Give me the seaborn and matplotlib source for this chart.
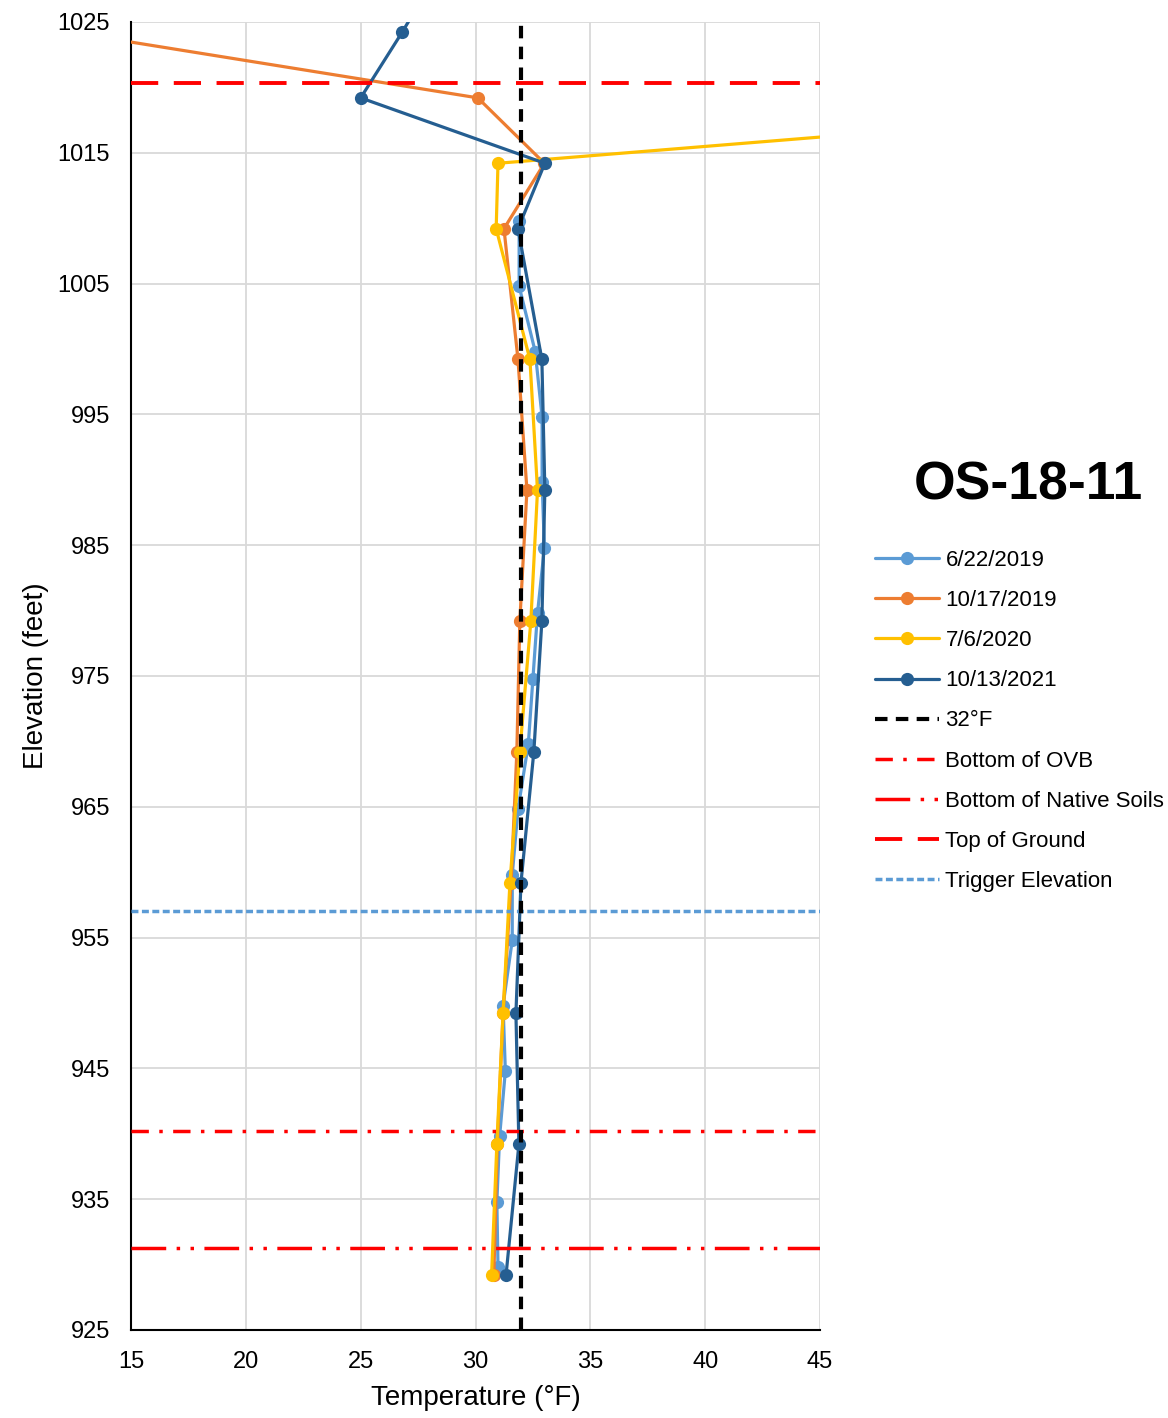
import numpy as np
import pandas as pd
import seaborn as sns
import matplotlib.pyplot as plt
from matplotlib.lines import Line2D

# Temperature profiles (deg F) vs elevation (feet)
elev_0622_2019 = [1009.8, 1004.8, 999.8, 994.8, 989.8, 984.8, 979.8, 974.8, 969.8,
                  964.8, 959.8, 954.8, 949.8, 944.8, 939.8, 934.8, 929.8]
temp_0622_2019 = [31.9, 31.9, 32.6, 32.9, 32.9, 33.0, 32.7, 32.5, 32.3,
                  31.85, 31.6, 31.6, 31.2, 31.3, 31.05, 30.93, 30.98]

elev_1017_2019 = [1024.2, 1019.2, 1014.2, 1009.2, 999.2, 989.2, 979.2, 969.2,
                  959.2, 949.2, 939.2, 929.2]
temp_1017_2019 = [12.4, 30.1, 33.0, 31.24, 31.85, 32.24, 31.93, 31.8,
                  31.55, 31.2, 30.95, 30.8]

elev_0706_2020 = [1019.2, 1014.2, 1009.2, 999.2, 989.2, 979.2, 969.2,
                  959.2, 949.2, 939.2, 929.2]
temp_0706_2020 = [66.0, 30.98, 30.9, 32.37, 32.7, 32.41, 31.93,
                  31.5, 31.2, 30.93, 30.7]

elev_1013_2021 = [1029.2, 1024.2, 1019.2, 1014.2, 1009.2, 999.2, 989.2, 979.2,
                  969.2, 959.2, 949.2, 939.2, 929.2]
temp_1013_2021 = [28.5, 26.8, 25.0, 33.02, 31.85, 32.89, 33.02, 32.89,
                  32.54, 31.98, 31.76, 31.89, 31.33]

series_names = ["6/22/2019", "10/17/2019", "7/6/2020", "10/13/2021"]
series_colors = ["#5B9BD5", "#ED7D31", "#FFC000", "#255E91"]

# Reference elevations / temperature
freezing_temp = 32
bottom_ovb = 940.2
bottom_native = 931.3
top_ground = 1020.3
trigger_elev = 957.0

x_ticks = [15, 20, 25, 30, 35, 40, 45]
y_ticks = [925, 935, 945, 955, 965, 975, 985, 995, 1005, 1015, 1025]

frames = []
for name, e, t in zip(series_names,
                      [elev_0622_2019, elev_1017_2019, elev_0706_2020, elev_1013_2021],
                      [temp_0622_2019, temp_1017_2019, temp_0706_2020, temp_1013_2021]):
    frames.append(pd.DataFrame({"elev": e, "temp": t, "date": name}))
df = pd.concat(frames, ignore_index=True)

sns.set_theme(style="whitegrid")
plt.rcParams["font.family"] = ["Liberation Sans", "DejaVu Sans"]
plt.rcParams["text.color"] = "black"
plt.rcParams["axes.labelcolor"] = "black"

fig = plt.figure(figsize=(11.68, 14.18), dpi=100)
ax = fig.add_axes([131 / 1168, 1 - 1330 / 1418, 689 / 1168, 1308 / 1418])

sns.lineplot(data=df, x="temp", y="elev", hue="date", hue_order=series_names,
             palette=dict(zip(series_names, series_colors)), sort=False,
             estimator=None, marker="o", markersize=9.5, markeredgewidth=0,
             linewidth=2.3, legend=False, ax=ax, zorder=3)

ax.axvline(freezing_temp, color="black", lw=3, ls=(0, (3, 2)), zorder=5)
ax.axhline(bottom_ovb, color="#FF0000", lw=2.5, ls=(0, (5, 3, 1, 3)), zorder=4)
ax.axhline(bottom_native, color="#FF0000", lw=2.5, ls=(0, (10, 3, 1, 3, 1, 3)), zorder=4)
ax.axhline(top_ground, color="#FF0000", lw=2.8, ls=(0, (7, 4)), zorder=4)
ax.axhline(trigger_elev, color="#5B9BD5", lw=2.5, ls=(0, (2, 1)), zorder=4)

ax.set_xlim(15, 45)
ax.set_ylim(925, 1025)
ax.set_xticks(x_ticks)
ax.set_yticks(y_ticks)
ax.grid(True, color="#D9D9D9", lw=1.3)
ax.tick_params(axis="both", labelsize=17, colors="black", length=0)
ax.tick_params(axis="y", pad=15)
ax.tick_params(axis="x", pad=15)
for side in ["top", "right"]:
    ax.spines[side].set_visible(False)
for side in ["left", "bottom"]:
    ax.spines[side].set_color("black")
    ax.spines[side].set_linewidth(1.5)
ax.set_xlabel("Temperature (°F)", fontsize=20, labelpad=9)
ax.set_ylabel("Elevation (feet)", fontsize=20, labelpad=6)

fig.text(1028 / 1168, 1 - 485 / 1418, "OS-18-11", fontsize=38.5, fontweight="bold",
         color="black", ha="center", va="center")

handles = [Line2D([], [], color=c, lw=2.3, marker="o", markersize=9.5, markeredgewidth=0)
           for c in series_colors]
handles += [
    Line2D([], [], color="black", lw=3, ls=(0, (3, 2))),
    Line2D([], [], color="#FF0000", lw=2.5, ls=(0, (5, 3, 1, 3))),
    Line2D([], [], color="#FF0000", lw=2.5, ls=(0, (10, 3, 1, 3, 1, 3))),
    Line2D([], [], color="#FF0000", lw=2.8, ls=(0, (7, 4))),
    Line2D([], [], color="#5B9BD5", lw=2.5, ls=(0, (2, 1))),
]
labels = series_names + ["32°F", "Bottom of OVB", "Bottom of Native Soils",
                         "Top of Ground", "Trigger Elevation"]
fig.legend(handles, labels, loc="upper left", bbox_to_anchor=(875 / 1168, 1 - 550 / 1418),
           frameon=False, fontsize=16, handlelength=2.9, handletextpad=0.27,
           labelspacing=0.86, borderpad=0, borderaxespad=0)

fig.savefig("out.png", dpi=100)
